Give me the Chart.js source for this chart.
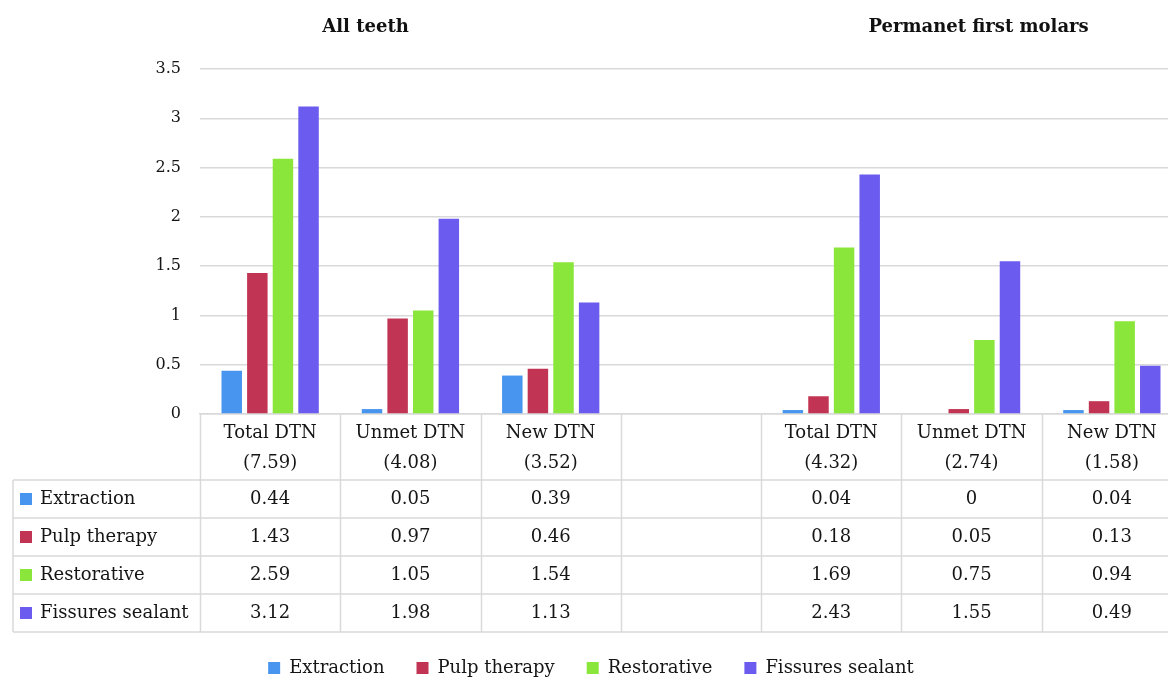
<!DOCTYPE html>
<html>
<head>
<meta charset="utf-8">
<script src="https://cdn.jsdelivr.net/npm/chart.js@4.4.1/dist/chart.umd.min.js"></script>
<style>
  html, body { margin: 0; padding: 0; background: #fff; overflow: hidden; }
  #wrap { width: 1190px; height: 678px; position: relative; }
</style>
</head>
<body>
<div id="wrap"><canvas id="c"></canvas></div>
<script>
// Decayed-tooth treatment needs, by group and need type
const categories = ['Total DTN', 'Unmet DTN', 'New DTN', '', 'Total DTN', 'Unmet DTN', 'New DTN'];
const totals = ['(7.59)', '(4.08)', '(3.52)', '', '(4.32)', '(2.74)', '(1.58)'];
const extraction = [0.44, 0.05, 0.39, null, 0.04, 0, 0.04];
const pulpTherapy = [1.43, 0.97, 0.46, null, 0.18, 0.05, 0.13];
const restorative = [2.59, 1.05, 1.54, null, 1.69, 0.75, 0.94];
const fissuresSealant = [3.12, 1.98, 1.13, null, 2.43, 1.55, 0.49];
const groupTitles = ['All teeth', 'Permanet first molars'];
const yTicks = [0, 0.5, 1, 1.5, 2, 2.5, 3, 3.5];

const FONT = '"DejaVu Serif", serif';
const TEXT = '#151515';
const LINE = '#d9d9d9';

const series = [
  { label: 'Extraction', data: extraction, color: '#4795ef' },
  { label: 'Pulp therapy', data: pulpTherapy, color: '#c23453' },
  { label: 'Restorative', data: restorative, color: '#8be63b' },
  { label: 'Fissures sealant', data: fissuresSealant, color: '#6b5bee' }
];

// Group titles above the plot and the data table under the x axis
const tablePlugin = {
  id: 'dataTable',
  afterDraw(chart) {
    const { ctx, chartArea: a } = chart;
    const n = categories.length;
    const colW = (a.right - a.left) / n;
    const headerH = 66;
    const rowH = 38;
    const headBottom = a.bottom + headerH;
    const tableBottom = headBottom + rowH * series.length;
    const tableLeft = 13;

    ctx.save();
    // titles
    ctx.fillStyle = '#111';
    ctx.font = 'bold 18px ' + FONT;
    ctx.textAlign = 'center';
    ctx.textBaseline = 'middle';
    ctx.fillText(groupTitles[0], a.left + colW * 1.18, 27);
    ctx.fillText(groupTitles[1], a.left + colW * 5.55, 27);

    // grid of the table
    ctx.strokeStyle = LINE;
    ctx.lineWidth = 1.5;
    const seg = (x1, y1, x2, y2) => { ctx.beginPath(); ctx.moveTo(x1, y1); ctx.lineTo(x2, y2); ctx.stroke(); };
    for (let i = 0; i <= n; i++) {
      const xx = Math.round(a.left + i * colW) + 0.5;
      seg(xx, a.bottom, xx, tableBottom);
    }
    seg(tableLeft, headBottom, tableLeft, tableBottom);
    for (let r = 0; r <= series.length; r++) {
      const yy = headBottom + r * rowH;
      seg(tableLeft, yy, a.right, yy);
    }

    // header cells
    ctx.fillStyle = TEXT;
    ctx.font = '18px ' + FONT;
    for (let i = 0; i < n; i++) {
      const cx = a.left + (i + 0.5) * colW;
      ctx.fillText(categories[i], cx, a.bottom + 19);
      ctx.fillText(totals[i], cx, a.bottom + 49);
    }

    // body rows
    series.forEach((s, r) => {
      const cy = headBottom + r * rowH + rowH / 2;
      ctx.fillStyle = s.color;
      ctx.fillRect(20, cy - 6, 12, 12);
      ctx.fillStyle = TEXT;
      ctx.textAlign = 'left';
      ctx.fillText(s.label, 40, cy);
      ctx.textAlign = 'center';
      for (let i = 0; i < n; i++) {
        const v = s.data[i];
        if (v === null) continue;
        ctx.fillText(String(v), a.left + (i + 0.5) * colW, cy);
      }
    });
    ctx.restore();
  }
};

new Chart(document.getElementById('c'), {
  type: 'bar',
  data: {
    labels: categories,
    datasets: series.map(s => ({
      label: s.label,
      data: s.data,
      backgroundColor: s.color,
      borderWidth: 0,
      barPercentage: 0.8,
      categoryPercentage: 0.73
    }))
  },
  options: {
    responsive: true,
    maintainAspectRatio: false,
    animation: false,
    events: [],
    layout: { padding: { top: 69, right: 8, left: 0, bottom: -9 } },
    plugins: {
      title: { display: false },
      tooltip: { enabled: false },
      legend: {
        position: 'bottom',
        labels: {
          boxWidth: 12,
          boxHeight: 12,
          padding: 32,
          color: TEXT,
          font: { family: FONT, size: 18 }
        }
      }
    },
    scales: {
      x: {
        grid: { display: false, drawTicks: false },
        border: { color: LINE, width: 1.5 },
        ticks: { display: false },
        afterFit(s) { s.height = 213; }
      },
      y: {
        min: 0,
        max: 3.5,
        afterBuildTicks(s) { s.ticks = yTicks.map(v => ({ value: v })); },
        grid: { color: LINE, lineWidth: 1.5, drawTicks: false },
        border: { display: false },
        ticks: {
          padding: 19,
          color: TEXT,
          font: { family: FONT, size: 16 },
          callback: v => String(v)
        },
        afterFit(s) { s.width = 200; }
      }
    }
  },
  plugins: [tablePlugin]
});
</script>
</body>
</html>
